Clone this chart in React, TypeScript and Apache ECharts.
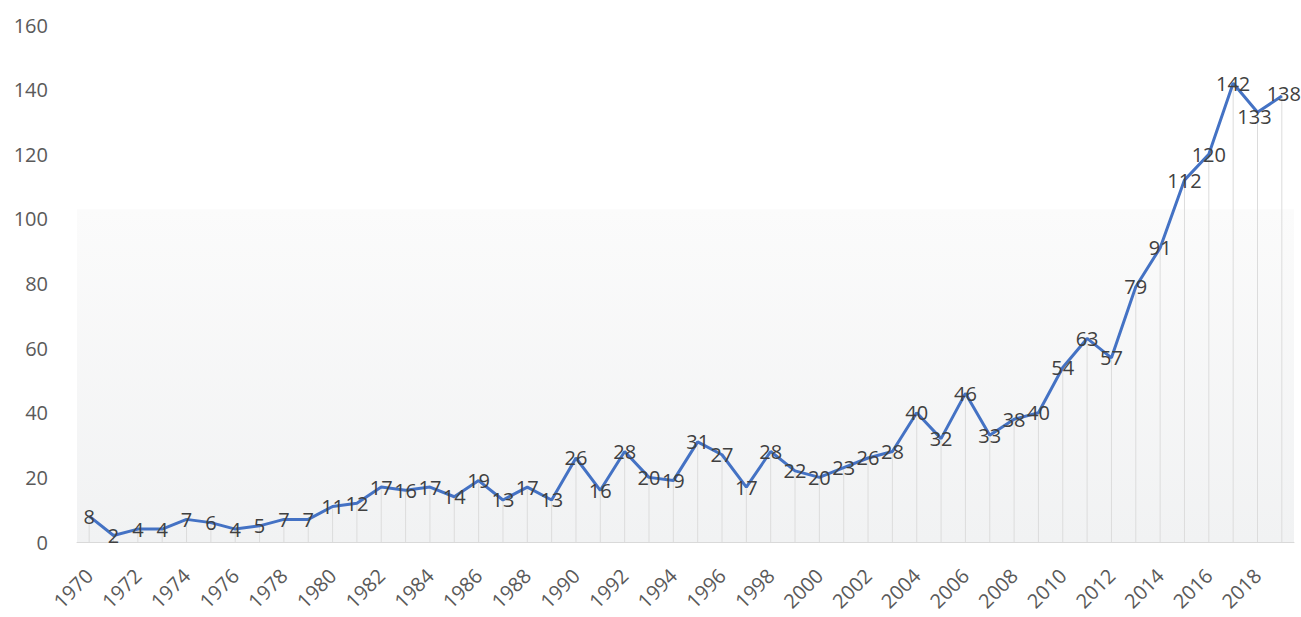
import React, { useEffect, useRef } from "react";
import * as echarts from "echarts";

const years: string[] = [
  "1970","1971","1972","1973","1974","1975","1976","1977","1978","1979",
  "1980","1981","1982","1983","1984","1985","1986","1987","1988","1989",
  "1990","1991","1992","1993","1994","1995","1996","1997","1998","1999",
  "2000","2001","2002","2003","2004","2005","2006","2007","2008","2009",
  "2010","2011","2012","2013","2014","2015","2016","2017","2018","2019",
];

const counts: number[] = [
  8, 2, 4, 4, 7, 6, 4, 5, 7, 7,
  11, 12, 17, 16, 17, 14, 19, 13, 17, 13,
  26, 16, 28, 20, 19, 31, 27, 17, 28, 22,
  20, 23, 26, 28, 40, 32, 46, 33, 38, 40,
  54, 63, 57, 79, 91, 112, 120, 142, 133, 138,
];

const yTicks = { min: 0, max: 160, interval: 20 };
const shadeTop = 103;

const FONT = "'Open Sans', 'Noto Sans', sans-serif";

export default function App() {
  const ref = useRef<HTMLDivElement>(null);
  useEffect(() => {
    if (!ref.current) return;
    const chart = echarts.init(ref.current, undefined, { renderer: "svg" });
    chart.setOption({
      animation: false,
      backgroundColor: "#ffffff",
      grid: {
        left: 77,
        right: 7,
        top: 25,
        bottom: 75,
        containLabel: false,
        outerBoundsMode: "none",
      },
      xAxis: {
        type: "category",
        data: years,
        boundaryGap: true,
        axisLine: { show: true, lineStyle: { color: "#d9d9d9", width: 1 } },
        axisTick: { show: false },
        axisLabel: {
          interval: 1,
          rotate: 45,
          margin: 30,
          color: "#595959",
          fontSize: 20,
          fontFamily: FONT,
        },
        splitLine: { show: false },
      },
      yAxis: {
        type: "value",
        min: yTicks.min,
        max: yTicks.max,
        interval: yTicks.interval,
        axisLine: { show: false },
        axisTick: { show: false },
        splitLine: { show: false },
        axisLabel: {
          margin: 29,
          color: "#5a5a5a",
          fontSize: 20,
          fontFamily: FONT,
        },
      },
      series: [
        {
          type: "bar",
          data: counts,
          barWidth: 1,
          barGap: "-100%",
          itemStyle: { color: "#dcdcdc" },
          silent: true,
          z: 1,
          markArea: {
            silent: true,
            itemStyle: {
              color: new echarts.graphic.LinearGradient(0, 0, 0, 1, [
                { offset: 0, color: "#fbfbfb" },
                { offset: 1, color: "#f1f2f3" },
              ]),
            },
            data: [[{ yAxis: 0 }, { yAxis: shadeTop }]],
          },
        },
        {
          type: "line",
          data: counts,
          symbol: "circle",
          symbolSize: 1,
          showSymbol: true,
          lineStyle: { color: "#4472c4", width: 3 },
          itemStyle: { color: "#4472c4" },
          z: 3,
          label: {
            show: true,
            position: "inside",
            color: "#404040",
            fontSize: 20,
            fontFamily: FONT,
          },
          labelLayout: (p: any) =>
            p.dataIndex === counts.length - 2
              ? { hideOverlap: false, dy: 4, dx: -3 }
              : p.dataIndex === counts.length - 1
              ? { hideOverlap: false, dy: -3, dx: 2 }
              : { hideOverlap: false },
        },
      ],
    });
    return () => chart.dispose();
  }, []);
  return <div ref={ref} style={{ width: 1301, height: 617, position: "absolute", left: 0, top: 0 }} />;
}
